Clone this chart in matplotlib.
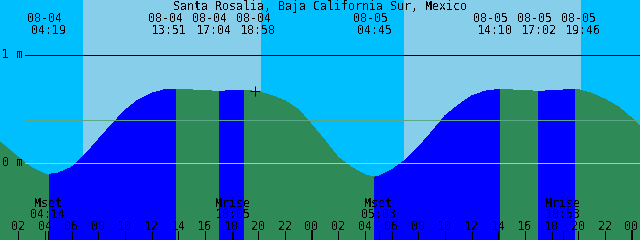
import numpy as np
import matplotlib
matplotlib.use('Agg')
import matplotlib.pyplot as plt

plt.rcParams['font.family'] = 'DejaVu Sans Mono'
plt.rcParams['text.antialiased'] = False

title = 'Santa Rosalia, Baja California Sur, Mexico'

# tide height (m), hours counted from 08-04 00:00
tide_t = [0.5, 1, 2, 3, 4, 4.317, 5, 6, 7, 8, 9, 10, 11, 12, 13, 13.85,
          14, 15, 16, 17, 17.067, 18, 18.967, 19, 20, 21, 22, 23, 24, 25, 26, 27, 28, 28.75,
          29, 30, 31, 32, 33, 34, 35, 36, 37, 38, 38.167,
          39, 40, 41, 41.033, 42, 43, 43.767, 44, 45, 46, 47, 48, 48.66, 48.8]
tide_h = [0.21, 0.16, 0.055, -0.04, -0.10, -0.11, -0.098, -0.045, 0.07, 0.21, 0.35, 0.48, 0.58, 0.64, 0.674, 0.68,
          0.679, 0.672, 0.664, 0.66, 0.66, 0.664, 0.67, 0.67, 0.655, 0.62, 0.57, 0.49, 0.35, 0.20, 0.045, -0.048, -0.115, -0.136,
          -0.13, -0.07, 0.02, 0.14, 0.28, 0.43, 0.53, 0.615, 0.66, 0.675, 0.676,
          0.672, 0.665, 0.66, 0.66, 0.664, 0.672, 0.676, 0.674, 0.64, 0.585, 0.515, 0.41, 0.33, 0.31]

# high / low tide events
event_t = [4.317, 13.85, 17.067, 18.967, 28.75, 38.167, 41.033, 43.767]
event_date = ['08-04', '08-04', '08-04', '08-04', '08-05', '08-05', '08-05', '08-05']
event_time = ['04:19', '13:51', '17:04', '18:58', '04:45', '14:10', '17:02', '19:46']

sunrise = [6.85, 30.93]
sunset = [20.2, 44.2]

moon_t = [4.233, 18.083, 29.05, 42.883]
moon_name = ['Mset', 'Mrise', 'Mset', 'Mrise']
moon_time = ['04:14', '18:05', '05:03', '18:53']

mean_level = 0.39
now_t, now_h = 19.76, 0.662

hour_ticks = list(range(2, 49, 2))

# layout (pixels)
W, H = 640, 240
t0 = 0.63
px_h = 13.333
y_top = 162.5 / 108
y_bot = -(H - 162.5) / 108
label_px = [45, 165.5, 210, 254, 370.5, 491, 535, 579]

night = '#00BFFF'
day = '#87CEEB'
flood = '#0000FF'
ebb = '#2E8B57'
fs = 8.4
lw1 = 0.72

fig = plt.figure(figsize=(6.4, 2.4), dpi=100)
ax = fig.add_axes([0, 0, 1, 1])
ax.set_xlim(t0, t0 + W / px_h)
ax.set_ylim(y_bot, y_top)
ax.set_axis_off()

ax.axvspan(t0 - 1, t0 + 50, color=night, lw=0)
for a, b in zip(sunrise, sunset):
    ax.axvspan(a, b, color=day, lw=0)

t = np.array(tide_t)
h = np.array(tide_h)
bounds = [t[0]] + event_t + [t[-1]]
for a, b in zip(bounds[:-1], bounds[1:]):
    m = (t >= a) & (t <= b)
    hs = h[m]
    col = flood if hs[-1] > hs[0] else ebb
    ax.fill_between(t[m], hs, y_bot - 1, color=col, lw=0, antialiased=False)

xm = 25 / W
ax.axhline(1, xmin=xm, color='black', lw=lw1, antialiased=False)
ax.axhline(mean_level, xmin=xm, color='#58A888', lw=lw1, antialiased=False)
ax.axhline(0, xmin=xm, color='#87CEFA', lw=lw1, antialiased=False)

ax.plot([now_t], [now_h], marker='+', color='black', ms=6.5, mew=lw1)

ax.text(2.5 / W, 1 - 58.3 / H, '1 m', transform=ax.transAxes, fontsize=fs, ha='left', va='baseline')
ax.text(2.5 / W, 1 - 166 / H, '0 m', transform=ax.transAxes, fontsize=fs, ha='left', va='baseline')

ax.text(0.5, 1 - 10 / H, title, transform=ax.transAxes, fontsize=fs, ha='center', va='baseline')
for px, d, tm in zip(label_px, event_date, event_time):
    ax.text(px / W, 1 - 21.7 / H, d, transform=ax.transAxes, fontsize=fs, ha='center', va='baseline')
    ax.text((px + 4) / W, 1 - 34 / H, tm, transform=ax.transAxes, fontsize=fs, ha='center', va='baseline')

xt = ax.get_xaxis_transform()
tick_top = 9 / H
for hr in hour_ticks:
    w = 2 * lw1 if hr % 24 == 0 else lw1
    ax.plot([hr, hr], [0, tick_top], transform=xt, color='black', lw=w, antialiased=False)
    ax.text(hr, 1 - 230 / H, '%02d' % (hr % 24), transform=xt, fontsize=fs, ha='center', va='baseline')

for mt, nm, tm in zip(moon_t, moon_name, moon_time):
    ax.plot([mt, mt], [0, tick_top], transform=xt, color='black', lw=lw1, antialiased=False)
    ax.text(mt, 1 - 206.7 / H, nm, transform=xt, fontsize=fs, ha='center', va='baseline')
    ax.text(mt, 1 - 218.3 / H, tm, transform=xt, fontsize=fs, ha='center', va='baseline')

fig.savefig('out.png', dpi=100)
